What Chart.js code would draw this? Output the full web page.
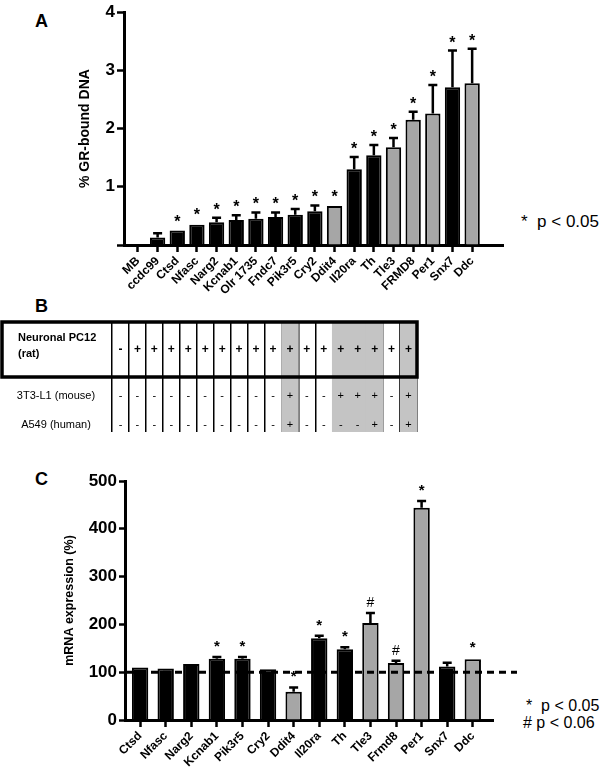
<!DOCTYPE html>
<html>
<head>
<meta charset="utf-8">
<script src="https://cdn.jsdelivr.net/npm/chart.js@4.4.1/dist/chart.umd.min.js"></script>
<style>
  body { margin: 0; background: #fff; width: 600px; height: 776px; position: relative; overflow: hidden;
         font-family: "Liberation Sans", Arial, sans-serif; }
  canvas { position: absolute; left: 0; }
  .panel { position: absolute; left: 35px; font-weight: bold; font-size: 18px; line-height: 18px; }
  .note { position: absolute; font-size: 17px; line-height: 20px; white-space: pre; color: #000; }
</style>
</head>
<body>
<div class="panel" style="top:12px">A</div>
<div class="panel" style="top:297px">B</div>
<div class="panel" style="top:470px">C</div>
<div class="note" style="left:521px;top:212px">*  p &lt; 0.05</div>
<div class="note" style="left:526px;top:696px;font-size:16px">*  p &lt; 0.05</div>
<div class="note" style="left:523px;top:713px;font-size:16px"># p &lt; 0.06</div>

<canvas id="chartA" width="600" height="310" style="top:0"></canvas>
<canvas id="chartB" width="600" height="135" style="top:305px"></canvas>
<canvas id="chartC" width="600" height="316" style="top:460px"></canvas>

<script>
// panel A: GR-bound DNA
const genesA = ["MB", "ccdc99", "Ctsd", "Nfasc", "Narg2", "Kcnab1", "Olr 1735", "Fndc7", "Pik3r5",
  "Cry2", "Ddit4", "Il20ra", "Th", "Tle3", "FRMD8", "Per1", "Snx7", "Ddc"];
const boundA = [0, 0.13, 0.25, 0.35, 0.39, 0.43, 0.45, 0.48, 0.52, 0.58, 0.67, 1.30, 1.54, 1.68, 2.15, 2.26, 2.71, 2.78];
const errA = [0, 0.07, 0.01, 0.02, 0.08, 0.08, 0.11, 0.08, 0.10, 0.10, 0.01, 0.21, 0.18, 0.16, 0.14, 0.49, 0.63, 0.59];
const sigA = ["", "", "*", "*", "*", "*", "*", "*", "*", "*", "*", "*", "*", "*", "*", "*", "*", "*"];
const ticksA = [0, 1, 2, 3, 4];

// panel B: conservation table (same columns as A)
const pc12 = ["-", "+", "+", "+", "+", "+", "+", "+", "+", "+", "+", "+", "+", "+", "+", "+", "+", "+"];
const mouse = ["-", "-", "-", "-", "-", "-", "-", "-", "-", "-", "+", "-", "-", "+", "+", "+", "-", "+"];
const human = ["-", "-", "-", "-", "-", "-", "-", "-", "-", "-", "+", "-", "-", "-", "-", "+", "-", "+"];
const conserved = [0, 0, 0, 0, 0, 0, 0, 0, 0, 0, 1, 0, 0, 1, 1, 1, 0, 1];

// panel C: mRNA expression
const genesC = ["Ctsd", "Nfasc", "Narg2", "Kcnab1", "Pik3r5", "Cry2", "Ddit4", "Il20ra", "Th", "Tle3",
  "Frmd8", "Per1", "Snx7", "Ddc"];
const mrnaC = [110, 108, 117, 128, 128, 106, 59, 171, 148, 203, 119, 444, 112, 127];
const errC = [3, 3, 3, 4, 4, 3, 9, 5, 4, 21, 5, 14, 8, 3];
const sigC = ["", "", "", "*", "*", "", "*", "*", "*", "#", "#", "*", "", "*"];
const conservedC = [0, 0, 0, 0, 0, 0, 1, 0, 0, 1, 1, 1, 0, 1];
const ticksC = [0, 100, 200, 300, 400, 500];

const FONT = '"Liberation Sans", Arial, sans-serif';
Chart.defaults.font.family = FONT;
Chart.defaults.color = "#000";

// error bars (upper half only) + significance marks
function errorBars(vals, errs, marks, starSize, starLift, hashLift) {
  return {
    id: "errorBars",
    afterDatasetsDraw(chart) {
      const { ctx, scales: { x, y } } = chart;
      ctx.save();
      ctx.strokeStyle = "#000";
      ctx.fillStyle = "#000";
      ctx.lineWidth = 2.5;
      vals.forEach((v, i) => {
        const px = x.getPixelForValue(i);
        const top = y.getPixelForValue(v);
        const cap = y.getPixelForValue(v + errs[i]);
        if (top - cap > 1.5) {
          ctx.beginPath();
          ctx.moveTo(px, top);
          ctx.lineTo(px, cap);
          ctx.moveTo(px - 4.5, cap);
          ctx.lineTo(px + 4.5, cap);
          ctx.stroke();
        }
        const m = marks[i];
        if (m) {
          ctx.textAlign = "center";
          ctx.textBaseline = "alphabetic";
          if (m === "#") {
            ctx.font = (starSize - 1) + "px " + FONT;
            ctx.fillText(m, px, cap - hashLift);
          } else {
            ctx.font = "bold " + starSize + "px " + FONT;
            ctx.fillText(m, px, cap - starLift);
          }
        }
      });
      ctx.restore();
    }
  };
}

// chart A
new Chart(document.getElementById("chartA"), {
  type: "bar",
  data: {
    datasets: [{
      data: boundA.map((v, i) => ({ x: i, y: v })),
      backgroundColor: conserved.map(c => c ? "#a6a6a6" : "#000"),
      borderColor: "#000",
      borderWidth: 2,
      barPercentage: 0.78,
      categoryPercentage: 1
    }]
  },
  options: {
    responsive: false,
    animation: false,
    layout: { padding: { left: 0, right: 97, top: 9, bottom: 0 } },
    plugins: { legend: { display: false }, tooltip: { enabled: false } },
    scales: {
      x: {
        type: "linear", min: -0.71, max: 18.57, offset: false,
        afterBuildTicks: s => { s.ticks = genesA.map((g, i) => ({ value: i })); },
        afterFit: s => { s.height = 65; },
        grid: { offset: false, drawOnChartArea: false, drawTicks: true, tickLength: 7, tickWidth: 2.5, tickColor: "#000" },
        border: { display: true, color: "#000", width: 3 },
        ticks: {
          autoSkip: false, minRotation: 45, maxRotation: 45, padding: 2, color: "#000",
          font: { size: 12, weight: "bold" },
          callback: v => genesA[v] ?? ""
        }
      },
      y: {
        min: 0, max: 4,
        afterBuildTicks: s => { s.ticks = ticksA.map(v => ({ value: v })); },
        afterFit: s => { s.width = 124; },
        grid: { drawOnChartArea: false, tickLength: 7, tickWidth: 2.5, tickColor: "#000" },
        border: { color: "#000", width: 3 },
        ticks: { padding: 2, color: "#000", font: { size: 17, weight: "bold" }, callback: v => v === 0 ? "" : v },
        title: { display: true, text: "% GR-bound DNA", color: "#000", font: { size: 14, weight: "bold" }, padding: { top: 77, bottom: 0 } }
      }
    }
  },
  plugins: [errorBars(boundA, errA, sigA, 16, 3, 5)]
});

// chart B: table drawn on a category scale, shaded columns as floating bars
const tableB = {
  id: "tableB",
  afterDraw(chart) {
    const { ctx, chartArea, scales: { x, y } } = chart;
    ctx.save();
    const yTop = y.getPixelForValue(4), yMid = y.getPixelForValue(2);
    ctx.strokeStyle = "#000";
    ctx.lineWidth = 3.5;
    ctx.strokeRect(2, yTop, chartArea.right - 2, yMid - yTop);

    ctx.fillStyle = "#000";
    ctx.textBaseline = "middle";
    ctx.textAlign = "left";
    ctx.font = "bold 11px " + FONT;
    ctx.fillText("Neuronal PC12", 18, y.getPixelForValue(3) - 12);
    ctx.fillText("(rat)", 18, y.getPixelForValue(3) + 4);
    ctx.textAlign = "center";
    ctx.font = "11px " + FONT;
    ctx.fillText("3T3-L1 (mouse)", 56, y.getPixelForValue(1.3));
    ctx.fillText("A549 (human)", 56, y.getPixelForValue(0.27));

    pc12.forEach((s, i) => {
      ctx.font = "bold 12px " + FONT;
      ctx.fillText(s, x.getPixelForValue(i), y.getPixelForValue(3));
      ctx.font = "11px " + FONT;
      ctx.fillText(mouse[i], x.getPixelForValue(i), y.getPixelForValue(1.3));
      ctx.fillText(human[i], x.getPixelForValue(i), y.getPixelForValue(0.27));
    });
    ctx.restore();
  }
};

new Chart(document.getElementById("chartB"), {
  type: "bar",
  data: {
    labels: genesA,
    datasets: [{
      data: conserved.map(c => c ? [0, 4] : null),
      backgroundColor: "#c4c4c4",
      borderWidth: 0,
      barPercentage: 1,
      categoryPercentage: 1
    }]
  },
  options: {
    responsive: false,
    animation: false,
    layout: { padding: { left: 112, right: 183, top: 17, bottom: 0 } },
    plugins: { legend: { display: false }, tooltip: { enabled: false } },
    scales: {
      x: {
        z: 1,
        offset: true,
        afterFit: s => { s.height = 8; },
        grid: { offset: true, color: "#000", lineWidth: 1.5, drawTicks: false },
        border: { display: false },
        ticks: { display: false }
      },
      y: { display: false, min: 0, max: 4 }
    }
  },
  plugins: [tableB]
});

// chart C
const refLine = {
  id: "refLine",
  afterDatasetsDraw(chart) {
    const { ctx, chartArea, scales: { y } } = chart;
    const py = y.getPixelForValue(100);
    ctx.save();
    ctx.strokeStyle = "#000";
    ctx.lineWidth = 3;
    ctx.setLineDash([7, 5]);
    ctx.beginPath();
    ctx.moveTo(chartArea.left + 2, py);
    ctx.lineTo(chartArea.right + 24, py);
    ctx.stroke();
    ctx.restore();
  }
};

new Chart(document.getElementById("chartC"), {
  type: "bar",
  data: {
    datasets: [{
      data: mrnaC.map((v, i) => ({ x: i, y: v })),
      backgroundColor: conservedC.map(c => c ? "#a6a6a6" : "#000"),
      borderColor: "#000",
      borderWidth: 2,
      barPercentage: 0.64,
      categoryPercentage: 1
    }]
  },
  options: {
    responsive: false,
    animation: false,
    layout: { padding: { left: 0, right: 107, top: 21, bottom: 0 } },
    plugins: { legend: { display: false }, tooltip: { enabled: false } },
    scales: {
      x: {
        type: "linear", min: -0.59, max: 13.79, offset: false,
        afterBuildTicks: s => { s.ticks = genesC.map((g, i) => ({ value: i })); },
        afterFit: s => { s.height = 56; },
        grid: { offset: false, drawOnChartArea: false, drawTicks: true, tickLength: 7, tickWidth: 2.5, tickColor: "#000" },
        border: { display: true, color: "#000", width: 3 },
        ticks: {
          autoSkip: false, minRotation: 45, maxRotation: 45, padding: 2, color: "#000",
          font: { size: 12, weight: "bold" },
          callback: v => genesC[v] ?? ""
        }
      },
      y: {
        min: 0, max: 500,
        afterBuildTicks: s => { s.ticks = ticksC.map(v => ({ value: v })); },
        afterFit: s => { s.width = 125; },
        grid: { drawOnChartArea: false, tickLength: 6, tickWidth: 2.5, tickColor: "#000" },
        border: { color: "#000", width: 3 },
        ticks: { padding: 2, color: "#000", font: { size: 17, weight: "bold" } },
        title: { display: true, text: "mRNA expression (%)", color: "#000", font: { size: 12.5, weight: "bold" }, padding: { top: 62, bottom: 0 } }
      }
    }
  },
  plugins: [errorBars(mrnaC, errC, sigC, 15, 6, 6), refLine]
});
</script>
</body>
</html>
